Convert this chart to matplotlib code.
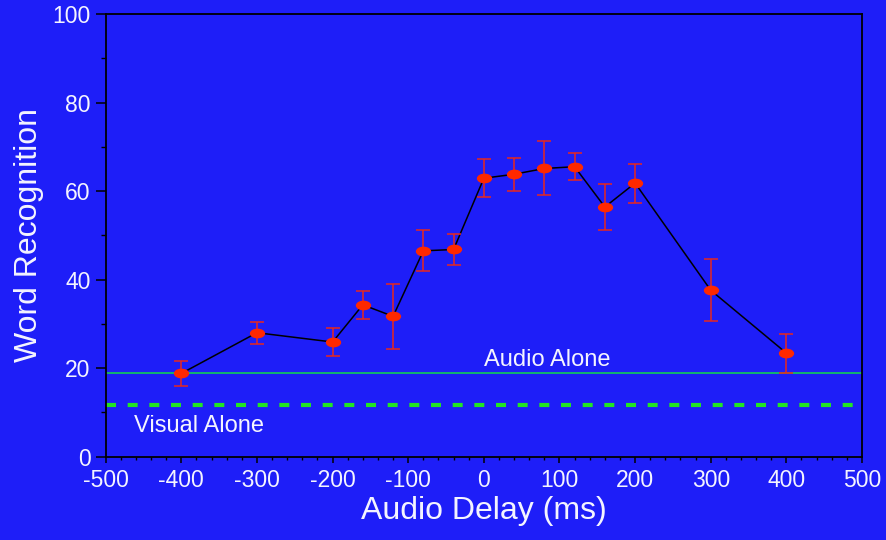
import matplotlib
matplotlib.use("Agg")
import matplotlib.pyplot as plt
from matplotlib.path import Path
from matplotlib.transforms import Affine2D
from matplotlib.ticker import MultipleLocator

# audio delay (ms) and mean word recognition (%) with error bar half-widths
delay = [-400, -300, -200, -160, -120, -80, -40, 0, 40, 80, 120, 160, 200, 300, 400]
recog = [18.8, 28.0, 25.9, 34.3, 31.7, 46.5, 46.8, 62.9, 63.8, 65.1, 65.5, 56.4, 61.8, 37.6, 23.4]
err = [2.9, 2.5, 3.2, 3.2, 7.3, 4.6, 3.5, 4.3, 3.7, 6.1, 3.0, 5.3, 4.4, 7.0, 4.4]

audio_alone = 19.0
visual_alone = 11.6

bg = "#1e1ef8"
txt = "#f4f4ff"

plt.rcParams["font.family"] = ["Liberation Sans", "DejaVu Sans"]
plt.rcParams["axes.unicode_minus"] = False

fig = plt.figure(figsize=(8.86, 5.4), dpi=100, facecolor=bg)
ax = fig.add_axes([0.1193, 0.1543, 0.8536, 0.8198])
ax.set_facecolor(bg)

# flattened ellipse marker
ellipse = Path.unit_circle().transformed(Affine2D().scale(1.0, 0.6))

ax.axhline(audio_alone, color="#14b46e", lw=1.4, zorder=2)
ax.axhline(visual_alone, color="#22e622", lw=3, dashes=(2.4, 2.8), zorder=2)

ax.plot(delay, recog, color="black", lw=1.1, zorder=3)
ax.errorbar(delay, recog, yerr=err, fmt="none", ecolor="#e8281e", elinewidth=1.1,
            capsize=4.8, capthick=1.1, zorder=4)
ax.plot(delay, recog, ls="none", marker=ellipse, markersize=10,
        color="#ff2800", mec="#ff2800", zorder=5)

ax.text(0, 21.8, "Audio Alone", color=txt, fontsize=17, va="center", ha="left")
ax.text(-463, 7.0, "Visual Alone", color=txt, fontsize=17, va="center", ha="left")

ax.set_xlim(-500, 500)
ax.set_ylim(0, 100)
ax.xaxis.set_major_locator(MultipleLocator(100))
ax.xaxis.set_minor_locator(MultipleLocator(20))
ax.yaxis.set_major_locator(MultipleLocator(20))
ax.yaxis.set_minor_locator(MultipleLocator(10))

ax.tick_params(axis="x", which="major", length=4.5, width=1.1, color="black",
               labelcolor=txt, labelsize=16.5, pad=4.5)
ax.tick_params(axis="x", which="minor", length=2.2, width=1, color="black")
ax.tick_params(axis="y", which="major", length=7, width=1.1, color="black",
               labelcolor=txt, labelsize=16.5, pad=4)
ax.tick_params(axis="y", which="minor", length=3.6, width=1, color="black")

for s in ax.spines.values():
    s.set_color("black")
    s.set_linewidth(1.3)

ax.set_xlabel("Audio Delay (ms)", color=txt, fontsize=23, labelpad=3)
ax.set_ylabel("Word Recognition", color=txt, fontsize=23, labelpad=6)

fig.savefig("out.png", dpi=100, facecolor=bg)
